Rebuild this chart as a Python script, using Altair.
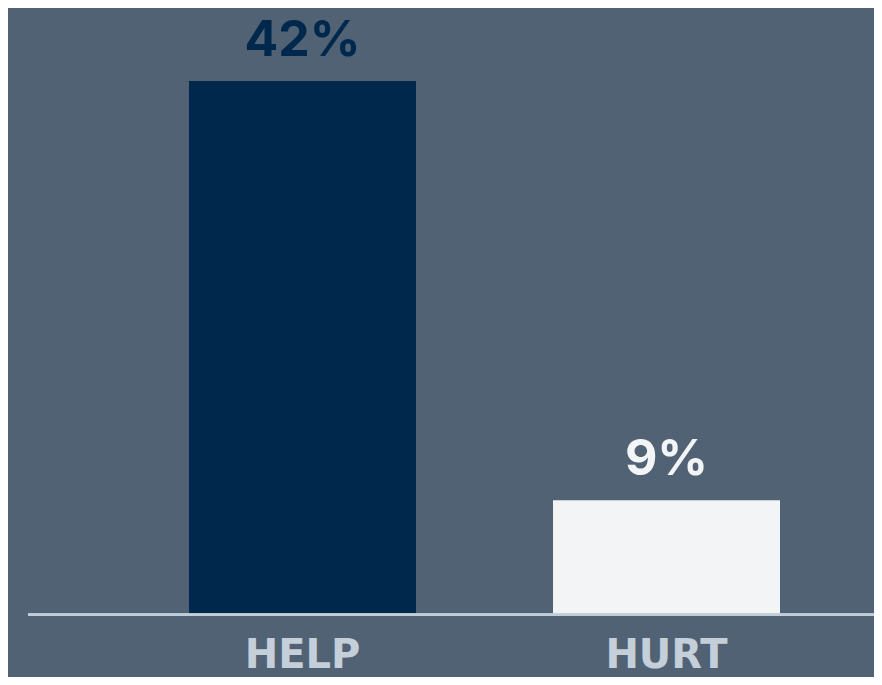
import altair as alt
import pandas as pd

categories = ["HELP", "HURT"]
values = [42, 9]
value_labels = ["42%", "9%"]
bar_colors = ["#00284d", "#f3f4f6"]
label_colors = ["#00284d", "#f3f4f6"]

df = pd.DataFrame({
    "cat": categories,
    "val": values,
    "lab": value_labels,
    "barc": bar_colors,
    "labc": label_colors,
})

W, H = 866, 669
xscale = alt.Scale(domain=categories, range=[112.5, 840.5], paddingInner=0.3764, paddingOuter=0.1882)
yscale = alt.Scale(domain=[-4.911, 47.745], nice=False, zero=False)

base = alt.Chart(df)

bars = base.mark_bar(cornerRadius=0).encode(
    x=alt.X("cat:N", scale=xscale, axis=None),
    y=alt.Y("val:Q", scale=yscale, axis=None),
    y2=alt.datum(0),
    color=alt.Color("barc:N", scale=None, legend=None),
)

rule = base.mark_rule(color="#c2cdd7", strokeWidth=2.6).encode(
    y=alt.Y(datum=0, scale=yscale, axis=None),
    x=alt.value(20),
    x2=alt.value(W),
)

vlabels = base.mark_text(
    font="Inter", fontSize=50, fontWeight="bold", baseline="alphabetic", align="center", dy=-25
).encode(
    x=alt.X("cat:N", scale=xscale, axis=None),
    y=alt.Y("val:Q", scale=yscale, axis=None),
    text="lab:N",
    color=alt.Color("labc:N", scale=None, legend=None),
)

catlabels = base.mark_text(
    font="DejaVu Sans", fontSize=40, fontWeight="bold", baseline="alphabetic", align="center", dy=53,
    color="#c4cfd9",
).encode(
    x=alt.X("cat:N", scale=xscale, axis=None),
    y=alt.Y(datum=0, scale=yscale, axis=None),
    text="cat:N",
)

chart = alt.layer(bars, rule, vlabels, catlabels).properties(
    width=W, height=H, padding=0, background="#506274",
    autosize=alt.AutoSizeParams(type="none"),
).configure_view(stroke=None)

chart.save("out.html", embed_options={"renderer": "svg", "actions": False})
